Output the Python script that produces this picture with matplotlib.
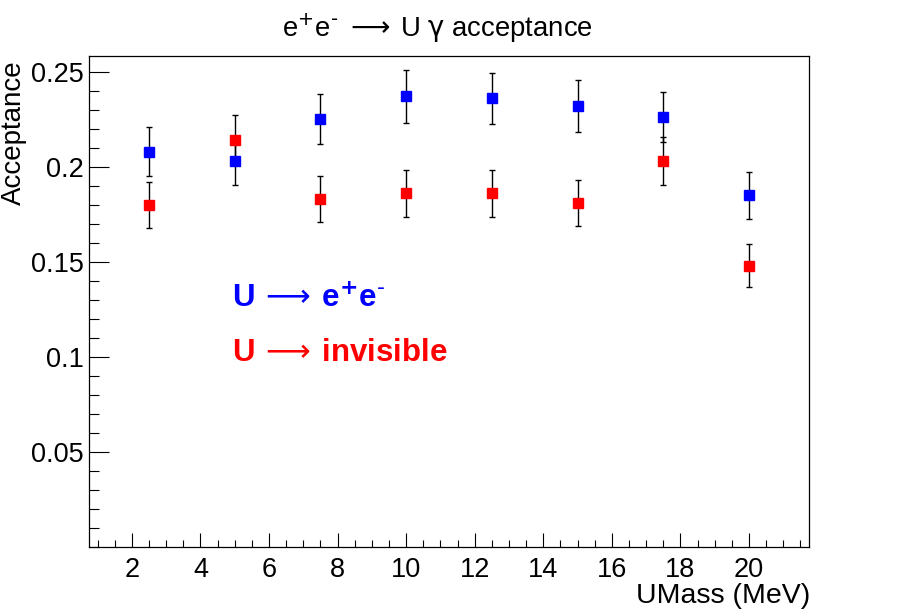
import numpy as np
import matplotlib
matplotlib.use('Agg')
import matplotlib.pyplot as plt
from matplotlib.ticker import MultipleLocator, FixedLocator, FormatStrFormatter

# 字体设置，接近ROOT的Helvetica
plt.rcParams['font.family'] = ['Liberation Sans', 'DejaVu Sans']
plt.rcParams['mathtext.fontset'] = 'dejavusans'

# 数据
umass = [2.5, 5.0, 7.5, 10.0, 12.5, 15.0, 17.5, 20.0]
acc_ee = [0.208, 0.203, 0.225, 0.237, 0.236, 0.232, 0.226, 0.185]
err_ee = [0.0128, 0.0128, 0.0131, 0.0137, 0.0135, 0.0137, 0.0132, 0.0123]
acc_inv = [0.180, 0.214, 0.183, 0.186, 0.186, 0.181, 0.203, 0.148]
err_inv = [0.0122, 0.0130, 0.0122, 0.0124, 0.0124, 0.0123, 0.0126, 0.0112]
y_major = [0.05, 0.1, 0.15, 0.2, 0.25]

fig = plt.figure(figsize=(9, 6.13), dpi=100)
ax = fig.add_axes([89/900, 1-547/613, 720/900, 491/613])

# 误差棒和方形点
ax.errorbar(umass, acc_ee, yerr=err_ee, fmt='none', ecolor='black', elinewidth=1.0, capsize=2.5, capthick=1.0, zorder=2)
ax.errorbar(umass, acc_inv, yerr=err_inv, fmt='none', ecolor='black', elinewidth=1.0, capsize=2.5, capthick=1.0, zorder=2)
ax.plot(umass, acc_ee, ls='none', marker='s', ms=7.6, color='#0000ff', mec='#0000ff', zorder=3)
ax.plot(umass, acc_inv, ls='none', marker='s', ms=7.6, color='#ff0000', mec='#ff0000', zorder=3)

# 坐标轴范围和刻度
ax.set_xlim(0.75, 21.75)
ax.set_ylim(0, 0.2583)
ax.xaxis.set_major_locator(MultipleLocator(2))
ax.xaxis.set_minor_locator(MultipleLocator(0.5))
ax.yaxis.set_major_locator(FixedLocator(y_major))
ax.yaxis.set_minor_locator(MultipleLocator(0.01))
ax.yaxis.set_major_formatter(FormatStrFormatter('%g'))
ax.tick_params(axis='both', which='both', direction='in', top=False, right=False, width=0.8, color='black', labelsize=19.5)
ax.tick_params(axis='y', which='major', length=14.4, pad=4)
ax.tick_params(axis='y', which='minor', length=7.2)
ax.tick_params(axis='x', which='major', length=10, pad=7)
ax.tick_params(axis='x', which='minor', length=5)
for s in ax.spines.values():
    s.set_linewidth(0.9)

# 标题和轴标签
fig.text(437/900, 1-37/613, r'e$^{+}$e$^{\text{-}}$ $\longrightarrow\,$U $\mathrm{\gamma}$ acceptance', ha='center', va='baseline', fontsize=19.8)
fig.text(14/900, 1-60/613, 'Acceptance', rotation=90, ha='center', va='top', fontsize=20)
fig.text(810/900, 1-603/613, 'UMass (MeV)', ha='right', va='baseline', fontsize=20.5)

# 图例文字
ax.text(0.198, 0.489, r'U$\,\longrightarrow\,$e$^{\mathbf{+}}$e$^{\mathbf{\text{-}}}$', transform=ax.transAxes, color='#0000ff', fontsize=22.5, fontweight='bold', ha='left', va='baseline')
ax.text(0.198, 0.379, r'U$\,\longrightarrow\,$invisible', transform=ax.transAxes, color='#ff0000', fontsize=22.5, fontweight='bold', ha='left', va='baseline')

fig.savefig('out.png', dpi=100)
